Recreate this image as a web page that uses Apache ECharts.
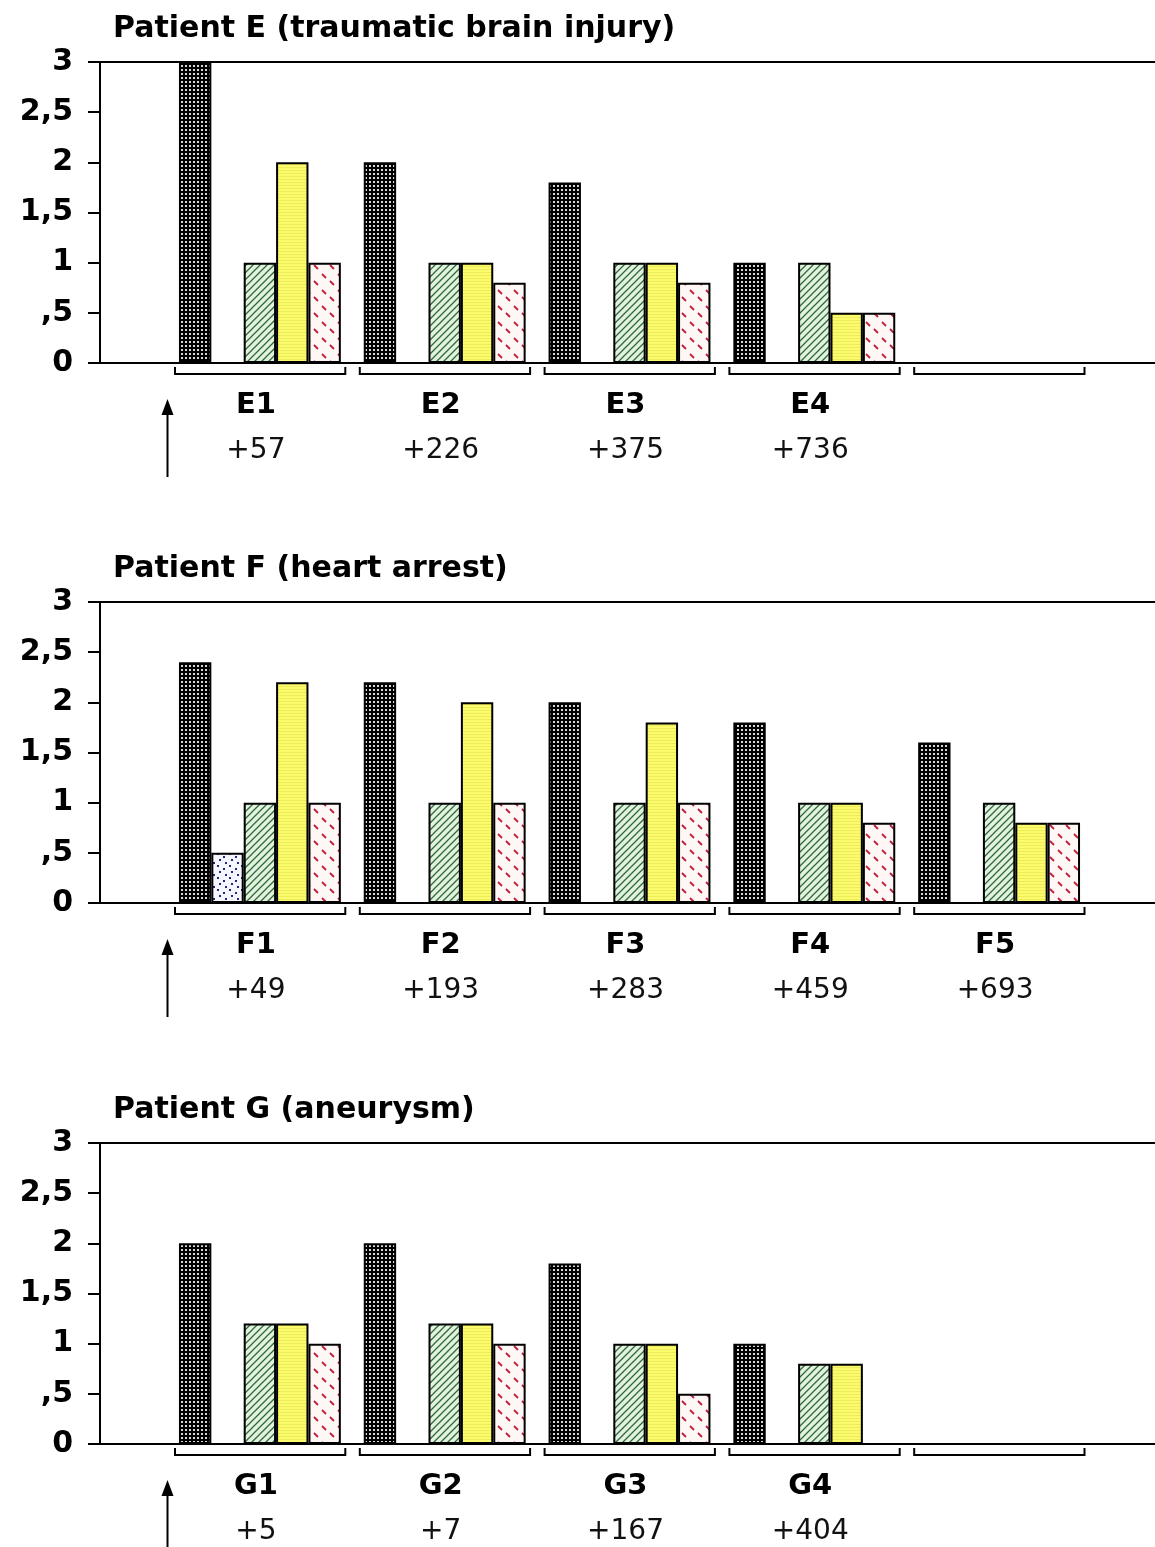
<!DOCTYPE html>
<html>
<head>
<meta charset="utf-8">
<script src="https://cdn.jsdelivr.net/npm/echarts@6/dist/echarts.min.js"></script>
<style>
html,body{margin:0;padding:0;background:#fff;}
#c{width:1155px;height:1547px;}
</style>
</head>
<body>
<div id="c"></div>
<script>
// ---------- data ----------
const titles = ['Patient E (traumatic brain injury)', 'Patient F (heart arrest)', 'Patient G (aneurysm)'];
const yTicks = [0, 0.5, 1, 1.5, 2, 2.5, 3];

const catsE = ['E1', 'E2', 'E3', 'E4', ''];
const daysE = ['+57', '+226', '+375', '+736', ''];
const blackE = [3, 2, 1.8, 1, null];
const blueE = [null, null, null, null, null];
const greenE = [1, 1, 1, 1, null];
const yellowE = [2, 1, 1, 0.5, null];
const redE = [1, 0.8, 0.8, 0.5, null];

const catsF = ['F1', 'F2', 'F3', 'F4', 'F5'];
const daysF = ['+49', '+193', '+283', '+459', '+693'];
const blackF = [2.4, 2.2, 2, 1.8, 1.6];
const blueF = [0.5, null, null, null, null];
const greenF = [1, 1, 1, 1, 1];
const yellowF = [2.2, 2, 1.8, 1, 0.8];
const redF = [1, 1, 1, 0.8, 0.8];

const catsG = ['G1', 'G2', 'G3', 'G4', ''];
const daysG = ['+5', '+7', '+167', '+404', ''];
const blackG = [2, 2, 1.8, 1, null];
const blueG = [null, null, null, null, null];
const greenG = [1.2, 1.2, 1, 0.8, null];
const yellowG = [1.2, 1.2, 1, 0.8, null];
const redG = [1, 1, 0.5, null, null];

const panels = [
  {title: titles[0], cats: catsE, days: daysE, s: [blackE, blueE, greenE, yellowE, redE]},
  {title: titles[1], cats: catsF, days: daysF, s: [blackF, blueF, greenF, yellowF, redF]},
  {title: titles[2], cats: catsG, days: daysG, s: [blackG, blueG, greenG, yellowG, redG]}
];

// ---------- patterns ----------
function tile(w, h, draw) {
  const c = document.createElement('canvas');
  c.width = w; c.height = h;
  draw(c.getContext('2d'));
  return {image: c, repeat: 'repeat'};
}
const patBlack = tile(4, 4, g => {
  g.fillStyle = '#000'; g.fillRect(0, 0, 4, 4);
  g.fillStyle = '#d8d8d8'; g.fillRect(1, 1, 2, 2);
});
const patBlue = tile(12, 12, g => {
  g.fillStyle = '#f6f6ff'; g.fillRect(0, 0, 12, 12);
  g.fillStyle = '#1d2a80';
  [[1, 1], [7, 4], [3, 7], [9, 10]].forEach(p => g.fillRect(p[0], p[1], 2, 2));
});
const patGreen = tile(7, 7, g => {
  g.fillStyle = '#e3f2e0'; g.fillRect(0, 0, 7, 7);
  g.strokeStyle = '#2d6a35'; g.lineWidth = 1.3;
  g.beginPath();
  g.moveTo(-1, 8); g.lineTo(8, -1);
  g.moveTo(-4.5, 4.5); g.lineTo(4.5, -4.5);
  g.moveTo(2.5, 11.5); g.lineTo(11.5, 2.5);
  g.stroke();
});
const patYellow = tile(4, 3, g => {
  g.fillStyle = '#fbfb6c'; g.fillRect(0, 0, 4, 3);
  g.fillStyle = '#ecec5c'; g.fillRect(0, 2, 4, 1);
});
const patRed = tile(16, 16, g => {
  g.fillStyle = '#fff6f6'; g.fillRect(0, 0, 16, 16);
  g.strokeStyle = '#c02038'; g.lineWidth = 1.8;
  g.beginPath();
  g.moveTo(2, 2); g.lineTo(6, 6);
  g.moveTo(10, 9); g.lineTo(14, 13);
  g.stroke();
});
const pats = [patBlack, patBlue, patGreen, patYellow, patRed];

// ---------- layout ----------
const tops = [62, 602, 1143];
const H = 301;
const FONT = 'DejaVu Sans';

const option = {
  animation: false,
  backgroundColor: '#fff',
  title: [], grid: [], xAxis: [], yAxis: [], series: []
};

panels.forEach((p, k) => {
  const top = tops[k];
  option.title.push({
    text: p.title, left: 108, top: top - 53,
    textStyle: {fontFamily: FONT, fontWeight: 'bold', fontSize: 30, color: '#000'}
  });
  const gf = option.grid.length;
  option.grid.push({left: 100, right: 0, top: top, height: H});
  const gb = option.grid.length;
  option.grid.push({left: 167.5, right: 63.5, top: top, height: H});

  option.xAxis.push({
    gridIndex: gf, type: 'value', min: 0, max: 1, position: 'bottom',
    axisLine: {show: true, lineStyle: {color: '#000', width: 2}},
    axisTick: {show: false}, axisLabel: {show: false}, splitLine: {show: false}
  });
  option.xAxis.push({
    gridIndex: gf, type: 'value', min: 0, max: 1, position: 'top',
    axisLine: {show: true, lineStyle: {color: '#000', width: 2}},
    axisTick: {show: false}, axisLabel: {show: false}, splitLine: {show: false}
  });
  option.yAxis.push({
    gridIndex: gf, type: 'value', min: 0, max: 3, interval: 0.5,
    axisLine: {show: true, lineStyle: {color: '#000', width: 2}},
    axisTick: {show: true, length: 12, lineStyle: {color: '#000', width: 2}},
    splitLine: {show: false},
    axisLabel: {
      margin: 27, color: '#000', fontFamily: FONT, fontWeight: 'bold', fontSize: 30,
      formatter: v => v === 0 ? '0' : String(v).replace('.', ',').replace(/^0,/, ',')
    }
  });
  const xb = option.xAxis.length;
  const days = p.days;
  option.xAxis.push({
    gridIndex: gb, type: 'category', data: p.cats,
    axisLine: {show: false}, axisTick: {show: false}, splitLine: {show: false},
    axisLabel: {
      interval: 0, margin: 20,
      formatter: (v, i) => '{a|' + v + '}\n{b|' + days[i] + '}',
      rich: {
        a: {fontFamily: FONT, fontWeight: 'bold', fontSize: 29, color: '#000', lineHeight: 45, padding: [0, 8, 0, 0]},
        b: {fontFamily: FONT, fontWeight: 'normal', fontSize: 28, color: '#111', lineHeight: 45, padding: [0, 8, 0, 0]}
      }
    }
  });
  const yb = option.yAxis.length;
  option.yAxis.push({gridIndex: gb, type: 'value', min: 0, max: 3, show: false});

  p.s.forEach((arr, j) => {
    option.series.push({
      type: 'bar', xAxisIndex: xb, yAxisIndex: yb, data: arr,
      barGap: 0, barCategoryGap: '12.4%',
      itemStyle: {color: pats[j], borderColor: '#000', borderWidth: 2}
    });
  });

  option.series.push({
    type: 'custom', xAxisIndex: xb, yAxisIndex: yb, clip: false, silent: true,
    data: p.cats.map((c, i) => [i, 0]),
    renderItem: (params, api) => {
      const pt = api.coord([api.value(0), 0]);
      const bw = api.size([1, 0])[0];
      const x0 = pt[0] - bw / 2 + 7.5, x1 = pt[0] + bw / 2 - 7;
      const y = pt[1];
      const children = [{
        type: 'polyline',
        shape: {points: [[x0, y + 4], [x0, y + 11], [x1, y + 11], [x1, y + 4]]},
        style: {stroke: '#000', lineWidth: 2, fill: null}
      }];
      if (params.dataIndex === 0) {
        const ax = pt[0] - bw / 2;
        children.push({
          type: 'line', shape: {x1: ax, y1: y + 46, x2: ax, y2: y + 114},
          style: {stroke: '#000', lineWidth: 2}
        });
        children.push({
          type: 'polygon', shape: {points: [[ax, y + 36], [ax - 6, y + 52], [ax + 6, y + 52]]},
          style: {fill: '#000'}
        });
      }
      return {type: 'group', children: children};
    }
  });
});

const chart = echarts.init(document.getElementById('c'), null, {renderer: 'canvas'});
chart.setOption(option);
</script>
</body>
</html>
